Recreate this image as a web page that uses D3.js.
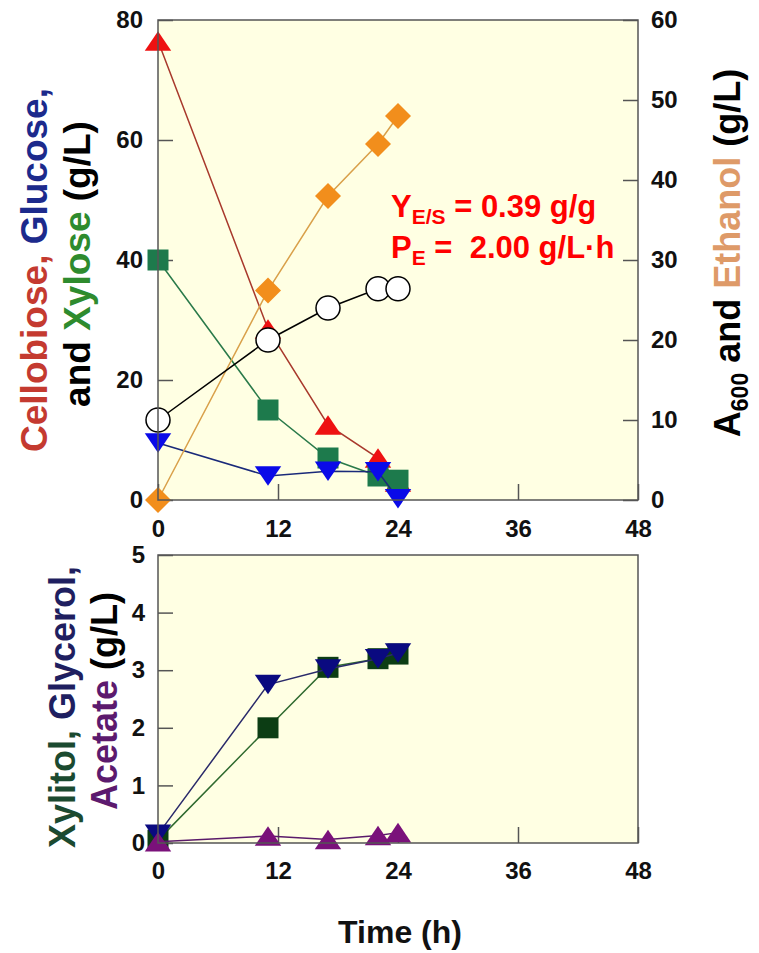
<!DOCTYPE html>
<html>
<head>
<meta charset="utf-8">
<script src="https://cdn.jsdelivr.net/npm/d3@7"></script>
<style>
  body { margin: 0; background: #fff; }
  text { font-family: Arial, "Liberation Sans", sans-serif; font-weight: bold; }
</style>
</head>
<body>
<svg id="chart" width="759" height="953"></svg>
<script>
// sampling times (h)
var times = [0, 11, 17, 22, 24];

// top panel, left axis (g/L)
var cellobiose = [76.5, 28.5, 12.5, 7, 3];
var glucose = [9.5, 4, 4.8, 4.7, 0.2];
var xylose = [40, 15, 7, 4, 3.3];

// top panel, right axis
var ethanol = [0, 26.2, 38, 44.5, 48];
var a600 = [10, 20, 24, 26.4, 26.4];

// bottom panel (g/L)
var xylitol = [0.05, 2.0, 3.05, 3.2, 3.28];
var glycerol = [0.15, 2.75, 3.02, 3.2, 3.3];
var acetate = [0.02, 0.12, 0.06, 0.13, 0.18];

// tick labels
var xTicks = [0, 12, 24, 36, 48];
var leftTicks = [0, 20, 40, 60, 80];
var rightTicks = [0, 10, 20, 30, 40, 50, 60];
var lowTicks = [0, 1, 2, 3, 4, 5];

var svg = d3.select("#chart");

var top1 = {left: 158, right: 638, top: 20, bottom: 500};
var top2 = {left: 158, right: 638, top: 555, bottom: 843};

var x = d3.scaleLinear().domain([0, 48]).range([top1.left, top1.right]);
var yLeft = d3.scaleLinear().domain([0, 80]).range([top1.bottom, top1.top]);
var yRight = d3.scaleLinear().domain([0, 60]).range([top1.bottom, top1.top]);
var yLow = d3.scaleLinear().domain([0, 5]).range([top2.bottom, top2.top]);

// marker shapes, centered on their bounding box
function markerPath(kind, s) {
    var h = s / 2;
    if (kind === "square") return `M${-h},${-h}H${h}V${h}H${-h}Z`;
    if (kind === "up") return `M0,${-h * 0.85}L${h * 1.15},${h * 0.85}L${-h * 1.15},${h * 0.85}Z`;
    if (kind === "down") return `M0,${h * 0.85}L${h * 1.15},${-h * 0.85}L${-h * 1.15},${-h * 0.85}Z`;
    if (kind === "diamond") return `M0,${-h}L${h},0L0,${h}L${-h},0Z`;
    return "";
}

function drawPanel(p) {
    svg.append("rect")
        .attr("x", p.left).attr("y", p.top)
        .attr("width", p.right - p.left).attr("height", p.bottom - p.top)
        .attr("fill", "#ffffe3");
}

function drawBorder(p) {
    svg.append("rect")
        .attr("x", p.left).attr("y", p.top)
        .attr("width", p.right - p.left).attr("height", p.bottom - p.top)
        .attr("fill", "none")
        .attr("stroke", "#555")
        .attr("stroke-width", 1.5);
}

function styleAxis(g) {
    g.select(".domain").remove();
    g.selectAll(".tick line").attr("stroke", "#555").attr("stroke-width", 1.5);
    g.selectAll(".tick text").attr("font-size", "24px").attr("fill", "#111")
        .style("font-family", "Arial, 'Liberation Sans', sans-serif").style("font-weight", "bold");
}

function drawSeries(xs, ys, yScale, st) {
    var pts = xs.map((t, i) => [x(t), yScale(ys[i])]);
    svg.append("path")
        .attr("d", d3.line()(pts))
        .attr("fill", "none")
        .attr("stroke", st.line)
        .attr("stroke-width", 1.5);
    var g = svg.append("g");
    if (st.kind === "circle") {
        g.selectAll("circle").data(pts).enter().append("circle")
            .attr("cx", d => d[0]).attr("cy", d => d[1])
            .attr("r", st.size / 2)
            .attr("fill", st.fill)
            .attr("stroke", "#000")
            .attr("stroke-width", 1.5);
    } else {
        g.selectAll("path").data(pts).enter().append("path")
            .attr("transform", d => `translate(${d[0]},${d[1]})`)
            .attr("d", markerPath(st.kind, st.size))
            .attr("fill", st.fill);
    }
}

// ---------- top panel ----------
drawPanel(top1);

svg.append("g").attr("transform", `translate(${top1.left},0)`)
    .call(d3.axisLeft(yLeft).tickValues(leftTicks).tickSize(-15).tickPadding(15))
    .call(styleAxis);
svg.append("g").attr("transform", `translate(${top1.right},0)`)
    .call(d3.axisRight(yRight).tickValues(rightTicks).tickSize(-15).tickPadding(13))
    .call(styleAxis);
svg.append("g").attr("transform", `translate(0,${top1.bottom})`)
    .call(d3.axisBottom(x).tickValues(xTicks).tickSize(-16).tickPadding(20))
    .call(styleAxis);

drawSeries(times, cellobiose, yLeft, {kind: "up", size: 23, fill: "#ee1111", line: "#a8392c"});
drawSeries(times, xylose, yLeft, {kind: "square", size: 21, fill: "#1d7a4c", line: "#2a7a4a"});
drawSeries(times, glucose, yLeft, {kind: "down", size: 23, fill: "#0a0ae8", line: "#1a2a7a"});
drawSeries(times, ethanol, yRight, {kind: "diamond", size: 26, fill: "#f28e1c", line: "#d9a04a"});
drawSeries(times, a600, yRight, {kind: "circle", size: 24, fill: "#fff", line: "#000"});

drawBorder(top1);

// yield / productivity annotation
var ann = svg.append("g").attr("fill", "#ff0000");
var l1 = ann.append("text").attr("x", 391).attr("y", 217).attr("font-size", "31px");
l1.append("tspan").text("Y");
l1.append("tspan").attr("font-size", "21px").attr("dy", 7).text("E/S");
l1.append("tspan").attr("dy", -7).text(" = 0.39 g/g");
var l2 = ann.append("text").attr("x", 391).attr("y", 258).attr("font-size", "31px")
    .attr("xml:space", "preserve");
l2.append("tspan").text("P");
l2.append("tspan").attr("font-size", "21px").attr("dy", 7).text("E");
l2.append("tspan").attr("dy", -7).text(" =  2.00 g/L\u00b7h");

// axis titles
function rotLabel(px, py, parts, size) {
    var t = svg.append("text")
        .attr("transform", `translate(${px},${py}) rotate(-90)`)
        .attr("text-anchor", "middle")
        .attr("font-size", size + "px")
        .attr("xml:space", "preserve");
    parts.forEach(function(p) {
        var s = t.append("tspan").attr("fill", p.color).text(p.text);
        if (p.sub) s.attr("font-size", "23px").attr("dy", 8);
        if (p.unsub) s.attr("dy", -8);
    });
    return t;
}

rotLabel(47, 270, [
    {text: "Cellobiose, ", color: "#c43a30"},
    {text: "Glucose,", color: "#1c2a8c"}
], 37);
rotLabel(90, 264, [
    {text: "and ", color: "#000"},
    {text: "Xylose", color: "#2e8b2e"},
    {text: " (g/L)", color: "#000"}
], 37);
rotLabel(740, 253, [
    {text: "A", color: "#000"},
    {text: "600", color: "#000", sub: true},
    {text: " and ", color: "#000", unsub: true},
    {text: "Ethanol", color: "#de9a68"},
    {text: " (g/L)", color: "#000"}
], 36);

// ---------- bottom panel ----------
drawPanel(top2);

svg.append("g").attr("transform", `translate(${top2.left},0)`)
    .call(d3.axisLeft(yLow).tickValues(lowTicks).tickFormat(d3.format("d")).tickSize(-15).tickPadding(13))
    .call(styleAxis);
svg.append("g").attr("transform", `translate(0,${top2.bottom})`)
    .call(d3.axisBottom(x).tickValues(xTicks).tickSize(-16).tickPadding(19))
    .call(styleAxis);

drawSeries(times, xylitol, yLow, {kind: "square", size: 21, fill: "#0c3d14", line: "#2f6a2f"});
drawSeries(times, glycerol, yLow, {kind: "down", size: 23, fill: "#0a0a80", line: "#2a2a6a"});
drawSeries(times, acetate, yLow, {kind: "up", size: 23, fill: "#7a117a", line: "#5a1a6a"});

drawBorder(top2);

rotLabel(75, 707, [
    {text: "Xylitol, ", color: "#1b4a30"},
    {text: "Glycerol,", color: "#1f1f60"}
], 36);
rotLabel(117, 701, [
    {text: "Acetate", color: "#5c1a6e"},
    {text: " (g/L)", color: "#000"}
], 36);

svg.append("text")
    .attr("x", 400).attr("y", 943)
    .attr("text-anchor", "middle")
    .attr("font-size", "32px")
    .attr("fill", "#111")
    .text("Time (h)");
</script>
</body>
</html>
